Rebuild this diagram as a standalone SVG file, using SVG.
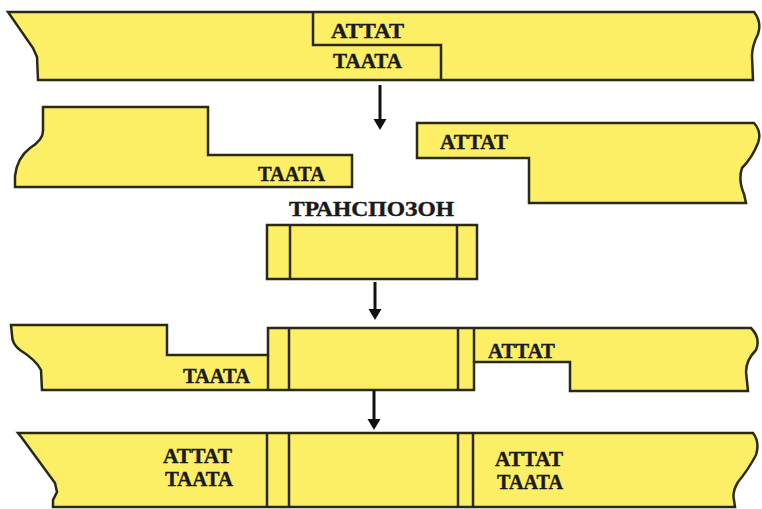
<svg xmlns="http://www.w3.org/2000/svg" width="762" height="509" viewBox="0 0 762 509">
<defs>
<style>
.dna{fill:#FCEF66;stroke:#2A2A14;stroke-width:2.5;stroke-linejoin:miter}
.ln{fill:none;stroke:#2A2A14;stroke-width:2.5}
.t{font-family:"Liberation Serif","Times New Roman",serif;font-weight:bold;font-size:21px;fill:#1a1a1a;stroke:#1a1a1a;stroke-width:0.4}
.arr{stroke:#111;stroke-width:3;fill:none}
.head{fill:#111}
</style>
</defs>
<rect width="762" height="509" fill="#ffffff"/>

<g id="row1">
<path class="dna" d="M8,12 L754,12 Q762,22 758,34 Q752,46 752,56 L753,80 L38,80 L37,57 L33,48 Z"/>
<path class="ln" d="M313,12 L313,45 L441,45 L441,80"/>
<text class="t" x="331" y="38" textLength="73" lengthAdjust="spacingAndGlyphs">ATTAT</text>
<text class="t" x="333" y="68" textLength="69" lengthAdjust="spacingAndGlyphs">TAATA</text>
</g>

<g id="row2-left">
<path class="dna" d="M43,107 L208,107 L208,155 L352,155 L352,187 L15,187 L15,176 Q17,158 30,148 Q43,140 43,131 Z"/>
<text class="t" x="258" y="181" textLength="67" lengthAdjust="spacingAndGlyphs">TAATA</text>
</g>

<g id="row2-right">
<path class="dna" d="M417,123 L754,123 Q762,132 758,143 Q752,158 742,168 Q738,180 744,194 L746,203 L529,203 L529,158 L417,158 Z"/>
<text class="t" x="440" y="149" textLength="68" lengthAdjust="spacingAndGlyphs">ATTAT</text>
</g>

<g id="transposon">
<text class="t" x="289" y="216" textLength="165" lengthAdjust="spacingAndGlyphs">ТРАНСПОЗОН</text>
<rect class="dna" x="267" y="225" width="210" height="54"/>
<path class="ln" d="M290,225 L290,279 M457,225 L457,279"/>
</g>

<g id="row3">
<path class="dna" d="M11,325 L167,325 L167,355 L268,355 L268,328 L751,328 Q761,338 756,350 Q746,360 746,372 L748,391 L570,391 L570,362 L474,362 L474,390 L42,390 L41,370 Q36,360 20,350 Q12,344 12,335 Z"/>
<path class="ln" d="M268,355 L268,390 M289,328 L289,390 M458,328 L458,390 M474,328 L474,362"/>
<text class="t" x="183" y="383" textLength="67" lengthAdjust="spacingAndGlyphs">TAATA</text>
<text class="t" x="488" y="358" textLength="67" lengthAdjust="spacingAndGlyphs">ATTAT</text>
</g>

<g id="row4">
<path class="dna" d="M18,433 L753,433 Q760,442 756,455 Q748,470 738,482 Q732,492 734,500 L735,507 L53,507 L53,500 L57,492 L55,483 L22,438 Z"/>
<path class="ln" d="M267,433 L267,507 M289,433 L289,507 M458,433 L458,507 M473,433 L473,507"/>
<text class="t" x="163" y="463" textLength="69" lengthAdjust="spacingAndGlyphs">ATTAT</text>
<text class="t" x="165" y="486" textLength="68" lengthAdjust="spacingAndGlyphs">TAATA</text>
<text class="t" x="495" y="466" textLength="68" lengthAdjust="spacingAndGlyphs">ATTAT</text>
<text class="t" x="497" y="489" textLength="66" lengthAdjust="spacingAndGlyphs">TAATA</text>
</g>

<g id="connectors">
<line class="arr" x1="380" y1="85" x2="380" y2="121"/>
<polygon class="head" points="373.5,119 386.5,119 380,130"/>
<line class="arr" x1="375" y1="282" x2="375" y2="311"/>
<polygon class="head" points="368.5,309 381.5,309 375,320"/>
<line class="arr" x1="374" y1="390" x2="374" y2="421"/>
<polygon class="head" points="367.5,419 380.5,419 374,430"/>
</g>
</svg>
